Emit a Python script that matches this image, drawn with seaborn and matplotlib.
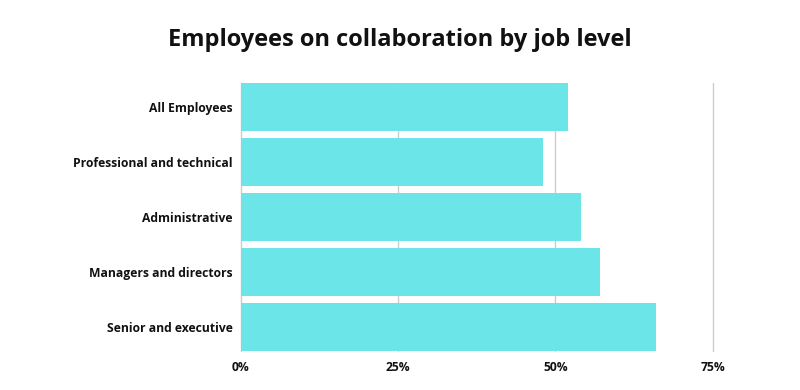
import matplotlib
matplotlib.use("Agg")
import matplotlib.pyplot as plt
import seaborn as sns
import pandas as pd
from matplotlib.ticker import FuncFormatter

categories = ["All Employees", "Professional and technical", "Administrative",
              "Managers and directors", "Senior and executive"]
values = [52, 48, 54, 57, 66]
xticks = [0, 25, 50, 75]

df = pd.DataFrame({"level": categories, "pct": values})

sns.set_theme(style="white")
plt.rcParams["font.family"] = ["Open Sans", "DejaVu Sans"]

fig = plt.figure(figsize=(8, 3.9), dpi=100)
ax = fig.add_axes([0.301, 0.1, 0.59, 0.688])

sns.barplot(data=df, y="level", x="pct", orient="h", color="#6CE5E8",
            saturation=1, width=0.87, ax=ax, zorder=2, linewidth=0)

ax.set_xlim(0, 75)
ax.set_ylim(4.435, -0.435)
ax.set_xticks(xticks)
ax.xaxis.set_major_formatter(FuncFormatter(lambda v, p: f"{int(v)}%"))
ax.grid(axis="x", color="#cccccc", linewidth=1, zorder=0)
for gl in ax.get_xgridlines():
    gl.set_clip_on(False)
ax.set_axisbelow(True)
for s in ax.spines.values():
    s.set_visible(False)
ax.set_xlabel("")
ax.set_ylabel("")
ax.tick_params(axis="both", length=0, labelsize=8.7, colors="#111111")
ax.tick_params(axis="x", pad=7)
ax.tick_params(axis="y", pad=6)
for lbl in ax.get_xticklabels() + ax.get_yticklabels():
    lbl.set_fontweight("bold")

fig.text(0.5, 0.897, "Employees on collaboration by job level", ha="center",
         va="center", fontsize=17, fontweight="bold", color="#111111")

fig.savefig("out.png", dpi=100, facecolor="white")
